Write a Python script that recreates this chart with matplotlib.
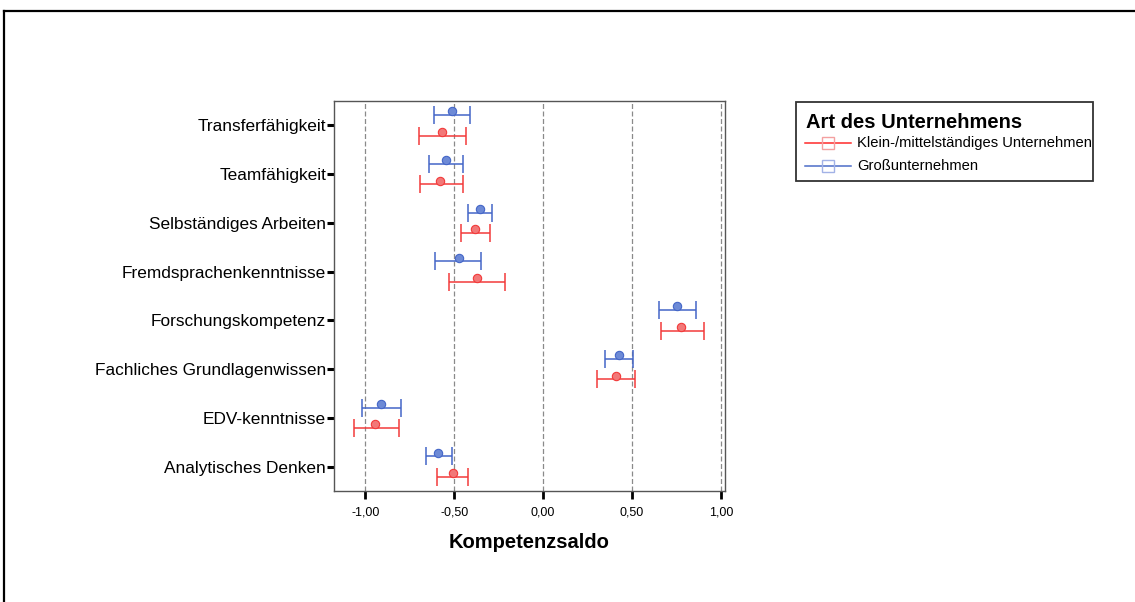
import matplotlib
matplotlib.use('Agg')
import matplotlib.pyplot as plt
from matplotlib.lines import Line2D
from matplotlib.patches import Rectangle

plt.rcParams['font.family'] = ['Liberation Sans', 'DejaVu Sans']

categories = ["Transferfähigkeit", "Teamfähigkeit", "Selbständiges Arbeiten",
              "Fremdsprachenkenntnisse", "Forschungskompetenz",
              "Fachliches Grundlagenwissen", "EDV-kenntnisse", "Analytisches Denken"]
series_names = ["Klein-/mittelständiges Unternehmen", "Großunternehmen"]
kmu_mean = [-0.568, -0.578, -0.386, -0.371, 0.778, 0.411, -0.945, -0.510]
kmu_low = [-0.698, -0.691, -0.461, -0.529, 0.665, 0.305, -1.066, -0.599]
kmu_high = [-0.437, -0.452, -0.299, -0.216, 0.904, 0.514, -0.813, -0.424]
gross_mean = [-0.514, -0.546, -0.354, -0.476, 0.752, 0.428, -0.915, -0.593]
gross_low = [-0.612, -0.644, -0.421, -0.606, 0.652, 0.345, -1.020, -0.661]
gross_high = [-0.412, -0.452, -0.290, -0.352, 0.859, 0.503, -0.798, -0.512]
xticks = [-1.0, -0.5, 0.0, 0.5, 1.0]
xtick_labels = ["-1,00", "-0,50", "0,00", "0,50", "1,00"]
x_title = "Kompetenzsaldo"
legend_title = "Art des Unternehmens"

W, H = 1135, 602
def fx(px):
    return px / W
def fy(py):
    return 1 - py / H

fig = plt.figure(figsize=(W / 100, H / 100), dpi=100)
fig.patch.set_facecolor('white')

ax = fig.add_axes([fx(334), fy(491), fx(725) - fx(334), fy(101) - fy(491)])
ax.set_xlim(-1.177, 1.023)
ax.set_ylim(len(categories) - 0.5, -0.5)

for xv in xticks:
    ax.axvline(xv, color='#8a8a8a', ls=(0, (4, 2)), lw=0.9, zorder=0)

pos = list(range(len(categories)))
series = [
    (kmu_mean, kmu_low, kmu_high, '#f23a3a', '#f27878', 0.21),
    (gross_mean, gross_low, gross_high, '#4466c8', '#6d8ad6', -0.21),
]
for mean, lo, hi, col, mcol, off in series:
    yy = [p + off for p in pos]
    err = [[m - l for m, l in zip(mean, lo)], [h - m for m, h in zip(mean, hi)]]
    ax.errorbar(mean, yy, xerr=err, fmt='none', ecolor=col, elinewidth=1.1,
                capsize=6.5, capthick=1.1, zorder=2)
    ax.plot(mean, [y - 0.075 for y in yy], 'o', ms=6, mfc=mcol, mec=col,
            mew=0.8, zorder=3)

ax.set_yticks(pos)
ax.set_yticklabels(categories)
ax.set_xticks(xticks)
ax.set_xticklabels(xtick_labels)
ax.tick_params(axis='y', direction='out', length=5.2, width=2.2, color='black',
               labelsize=12.4, pad=0.5)
ax.tick_params(axis='x', direction='out', length=5.8, width=2.0, color='black',
               labelsize=9, pad=5.2)
for sp in ax.spines.values():
    sp.set_color('#555555')
    sp.set_linewidth(1.0)

fig.text(fx(529.5), fy(542), x_title, ha='center', va='center',
         fontsize=14.5, fontweight='bold')

# legend box
fig.patches.append(Rectangle((fx(795.7), fy(181)), (1092.7 - 795.7) / W,
                             (181 - 101.7) / H, transform=fig.transFigure,
                             facecolor='white', edgecolor='#333333', lw=1.3,
                             zorder=1))
fig.text(fx(806), fy(123), legend_title, ha='left', va='center',
         fontsize=14.5, fontweight='bold')
leg_items = [(series_names[0], '#ff2a2a', '#f4a0a0', 143.3),
             (series_names[1], '#4c6cc8', '#a2b2e6', 165.7)]
for name, lc, sc, py in leg_items:
    fig.lines.append(Line2D([fx(805), fx(851)], [fy(py), fy(py)],
                            transform=fig.transFigure, color=lc, lw=1.1))
    fig.lines.append(Line2D([fx(827.7)], [fy(py)], transform=fig.transFigure,
                            marker='s', ms=9, mfc='none', mec=sc, mew=1.0))
    fig.text(fx(857), fy(py), name, ha='left', va='center', fontsize=10.6)

# figure border (top and left)
fig.lines.append(Line2D([fx(4), fx(4)], [fy(11), 0], transform=fig.transFigure,
                        color='black', lw=1.6))
fig.lines.append(Line2D([fx(4), 1], [fy(11), fy(11)], transform=fig.transFigure,
                        color='black', lw=1.6))

fig.savefig('out.png', dpi=100)
